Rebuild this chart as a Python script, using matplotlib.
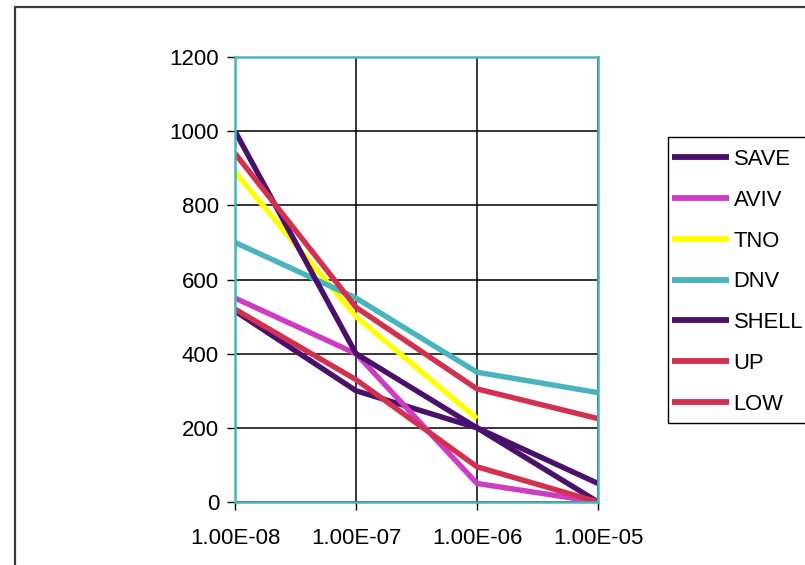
import matplotlib
matplotlib.use("Agg")
from matplotlib import pyplot as plt
from matplotlib.patches import Rectangle

plt.rcParams['font.family'] = ['Liberation Sans', 'DejaVu Sans']

# frequency categories on the x axis
categories = ["1.00E-08", "1.00E-07", "1.00E-06", "1.00E-05"]

save = [515, 300, 200, 50]
aviv = [550, 400, 50, 0]
tno = [890, 500, 225]
dnv = [700, 550, 350, 295]
shell = [1000, 400, 200, 0]
up = [940, 525, 305, 225]
low = [520, 330, 95, 0]

series_names = ["SAVE", "AVIV", "TNO", "DNV", "SHELL", "UP", "LOW"]
series_values = [save, aviv, tno, dnv, shell, up, low]
colours = ["#4b0f6c", "#cc3dc4", "#ffff00", "#4ab4be", "#4b0f6c", "#d3304f", "#d3304f"]

y_ticks = [0, 200, 400, 600, 800, 1000, 1200]


def main():
	fig = plt.figure(figsize=(8.05, 5.65), dpi=100)
	ax = fig.add_axes([235/805, 63/565, 363/805, 445/565])

	for name, vals, col in zip(series_names, series_values, colours):
		ax.plot(range(len(vals)), vals, color=col, linewidth=3.9, label=name,
			solid_capstyle='butt', solid_joinstyle='miter')

	ax.set_xlim(0, len(categories) - 1)
	ax.set_ylim(0, 1200)
	ax.set_xticks(range(len(categories)))
	ax.set_xticklabels(categories)
	ax.set_yticks(y_ticks)
	ax.grid(True, color="black", linewidth=1.1, zorder=0)
	ax.set_axisbelow(True)
	for s in ax.spines.values():
		s.set_color("#4ab4be")
		s.set_linewidth(1.8)
	ax.tick_params(axis='both', direction='out', length=5.5, width=1.0, color='black',
		labelsize=16)
	ax.tick_params(axis='y', pad=6)
	ax.tick_params(axis='x', pad=13)

	# legend without its own frame, boxed by hand below
	leg = fig.legend(loc='upper left', bbox_to_anchor=(660/805, (565-137)/565),
		frameon=False, fontsize=15.8,
		handlelength=2.6, handletextpad=0.2, labelspacing=0.9,
		borderpad=0.55, borderaxespad=0)
	for h in leg.get_lines():
		h.set_linewidth(4.2)
	fig.patches.append(Rectangle((668/805, (565-423)/565), 0.3, 286/565,
		transform=fig.transFigure, fill=False, edgecolor='black', linewidth=1.0))

	# border round the whole chart
	fig.patches.append(Rectangle((15/805, -0.05), 1.0, (558/565) + 0.05,
		transform=fig.transFigure, fill=False, edgecolor='#3a3a3a', linewidth=1.6))

	fig.savefig("out.png", dpi=100)


if __name__=="__main__":
	main()
